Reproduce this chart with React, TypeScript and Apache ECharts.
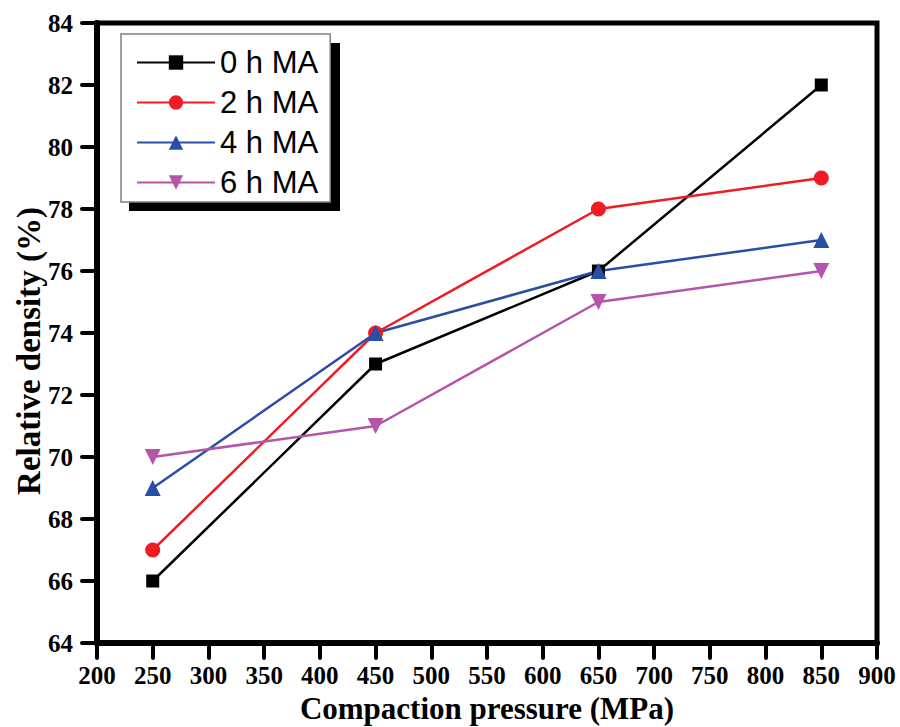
import React, { useEffect, useRef } from "react";
import * as echarts from "echarts";

const pressures = [250, 450, 650, 850];
const ma0 = [66, 73, 76, 82];
const ma2 = [67, 74, 78, 79];
const ma4 = [69, 74, 76, 77];
const ma6 = [70, 71, 75, 76];
const seriesNames = ["0 h MA", "2 h MA", "4 h MA", "6 h MA"];
const xTitle = "Compaction pressure (MPa)";
const yTitle = "Relative density (%)";

const serif = "'Liberation Serif', 'Times New Roman', serif";
const sans = "'Liberation Sans', Arial, sans-serif";

export default function App() {
  const ref = useRef<HTMLDivElement>(null);
  useEffect(() => {
    if (!ref.current) return;
    const chart = echarts.init(ref.current, null, { renderer: "svg" });
    const mk = (name: string, vals: number[], color: string, symbol: string, size: number, rotate = 0) => ({
      name,
      type: "line",
      data: pressures.map((p, i) => [p, vals[i]]),
      symbol,
      symbolSize: size,
      symbolRotate: rotate,
      lineStyle: { color, width: 2.5 },
      itemStyle: { color },
      z: 3,
    });
    chart.setOption({
      animation: false,
      backgroundColor: "#fff",
      grid: {
        left: 97, right: 23, top: 23, bottom: 84,
        containLabel: false, outerBoundsMode: "none",
        show: true, borderColor: "#000", borderWidth: 5,
      },
      graphic: [
        { type: "rect", shape: { x: 129, y: 43, width: 211, height: 168 }, style: { fill: "#000" }, z: 1 },
      ],
      legend: {
        orient: "vertical",
        left: 121,
        top: 34,
        padding: [13, 12, 4, 15],
        itemWidth: 78,
        itemHeight: 18,
        itemGap: 9,
        backgroundColor: "#fff",
        borderColor: "#808080",
        borderWidth: 1.5,
        textStyle: { fontFamily: sans, fontSize: 31, color: "#000" },
        data: seriesNames,
        z: 5,
      },
      xAxis: {
        type: "value",
        min: 200,
        max: 900,
        interval: 50,
        splitLine: { show: false },
        axisLine: { show: true, lineStyle: { color: "#000", width: 6 } },
        axisTick: { show: true, length: 15, lineStyle: { color: "#000", width: 4, cap: "round" } },
        axisLabel: { fontFamily: serif, fontWeight: "bold", fontSize: 25, color: "#000", margin: 20 },
        name: xTitle,
        nameLocation: "middle",
        nameGap: 50,
        nameMoveOverlap: false,
        nameTextStyle: { fontFamily: serif, fontWeight: "bold", fontSize: 31, color: "#000" },
      },
      yAxis: {
        type: "value",
        min: 64,
        max: 84,
        interval: 2,
        splitLine: { show: false },
        axisLine: { show: true, lineStyle: { color: "#000", width: 6 } },
        axisTick: { show: true, length: 15, lineStyle: { color: "#000", width: 4, cap: "round" } },
        axisLabel: { fontFamily: serif, fontWeight: "bold", fontSize: 25, color: "#000", margin: 24 },
        name: yTitle,
        nameLocation: "middle",
        nameGap: 52,
        nameMoveOverlap: false,
        nameTextStyle: { fontFamily: serif, fontWeight: "bold", fontSize: 33, color: "#000", padding: [0, 36, 0, 0] },
      },
      series: [
        mk(seriesNames[0], ma0, "#000000", "rect", 13),
        mk(seriesNames[1], ma2, "#ee1c24", "circle", 15),
        mk(seriesNames[2], ma4, "#2a4ea6", "triangle", 16),
        mk(seriesNames[3], ma6, "#b555aa", "triangle", 16, 180),
      ],
    });
    return () => chart.dispose();
  }, []);
  return <div ref={ref} style={{ position: "absolute", left: 0, top: 0, width: 900, height: 727 }} />;
}
